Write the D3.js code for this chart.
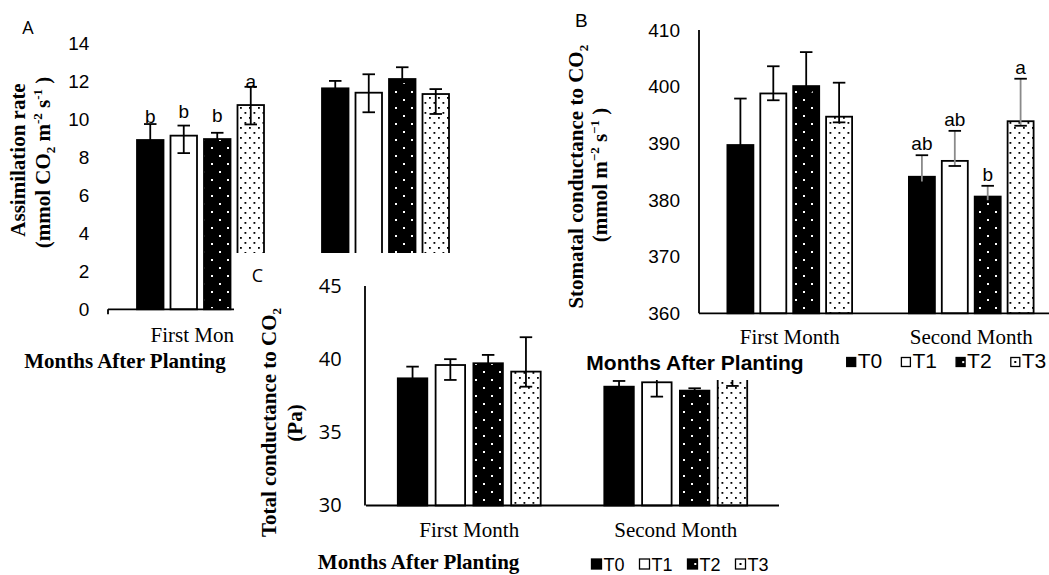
<!DOCTYPE html>
<html>
<head>
<meta charset="utf-8">
<script src="https://cdn.jsdelivr.net/npm/d3@7"></script>
<style>
  html, body { margin: 0; padding: 0; background: #fff; }
  svg { display: block; }
</style>
</head>
<body>
<svg id="fig" width="1049" height="575"></svg>
<script>
// ---------- data ----------
const months = ["First Month", "Second Month"];
const treatments = ["T0", "T1", "T2", "T3"];

// A: assimilation rate (mmol CO2 m-2 s-1)
const assimTicks = [0, 2, 4, 6, 8, 10, 12, 14];
const assimMean = [[8.91, 9.14, 8.96, 10.75], [11.63, 11.40, 12.12, 11.33]];
const assimErrUp = [[0.84, 0.53, 0.33, 0.96], [0.39, 0.97, 0.62, 0.26]];
const assimErrDown = [[0.40, 0.92, 0.20, 1.02], [0.30, 1.03, 0.30, 1.05]];
const assimLetters = [["b", "b", "b", "a"], ["", "", "", ""]];

// B: stomatal conductance to CO2 (mmol m-2 s-1)
const stomTicks = [360, 370, 380, 390, 400, 410];
const stomMean = [[389.7, 398.8, 400.1, 394.7], [384.1, 386.9, 380.6, 393.9]];
const stomErrUp = [[8.2, 4.8, 6.0, 6.0], [3.8, 5.3, 1.9, 7.5]];
const stomErrDown = [[1.0, 1.2, 1.0, 1.0], [1.0, 0.9, 0.8, 0.8]];
const stomLetters = [["", "", "", ""], ["ab", "ab", "b", "a"]];

// C: total conductance to CO2 (Pa)
const totalTicks = [30, 35, 40, 45];
const totalMean = [[38.69, 39.60, 39.72, 39.15], [38.12, 38.42, 37.85, 38.90]];
const totalErrUp = [[0.80, 0.40, 0.57, 2.35], [0.39, 0.98, 0.16, 0.80]];
const totalErrDown = [[0.30, 1.02, 0.30, 1.03], [0.20, 0.98, 0.16, 0.73]];

// ---------- drawing ----------
const SANS = "'Liberation Sans', Arial, sans-serif";
const SERIF = "'Liberation Serif', 'Times New Roman', serif";
const CALI = "'Open Sans', sans-serif";

const svg = d3.select("#fig");
svg.append("rect").attr("width", 1049).attr("height", 575).attr("fill", "#fff");

// fill patterns
const defs = svg.append("defs");
const pDark = defs.append("pattern").attr("id", "dotsDark")
  .attr("patternUnits", "userSpaceOnUse").attr("width", 16).attr("height", 16);
pDark.append("rect").attr("width", 16).attr("height", 16).attr("fill", "#000");
pDark.append("rect").attr("x", 3).attr("y", 3).attr("width", 2).attr("height", 2).attr("fill", "#fff");
pDark.append("rect").attr("x", 11).attr("y", 11).attr("width", 2).attr("height", 2).attr("fill", "#fff");

const pLight = defs.append("pattern").attr("id", "dotsLight")
  .attr("patternUnits", "userSpaceOnUse").attr("width", 9).attr("height", 10);
pLight.append("rect").attr("width", 9).attr("height", 10).attr("fill", "#fff");
pLight.append("rect").attr("x", 1.5).attr("y", 2).attr("width", 1.8).attr("height", 1.8).attr("fill", "#000");
pLight.append("rect").attr("x", 6).attr("y", 7).attr("width", 1.8).attr("height", 1.8).attr("fill", "#000");

const fills = { T0: "#000", T1: "#fff", T2: "url(#dotsDark)", T3: "url(#dotsLight)" };

function rotatedTitle(g, bx, cy, parts, fs) {
  const t = g.append("text")
    .attr("transform", `translate(${bx},${cy}) rotate(-90)`)
    .attr("text-anchor", "middle")
    .attr("font-family", SERIF).attr("font-weight", "bold")
    .attr("font-size", fs).attr("fill", "#000");
  let shift = 0;
  parts.forEach(([txt, kind]) => {
    const target = kind === "sub" ? 5 : kind === "sup" ? -8 : 0;
    const ts = t.append("tspan").text(txt).attr("dy", target - shift);
    if (kind !== "n") ts.attr("font-size", 13);
    shift = target;
  });
}

function legend(g, x0, gap, baseline, sw, fs) {
  treatments.forEach((t, j) => {
    const x = x0 + j * gap;
    const top = baseline - sw - 1.5;
    g.append("rect").attr("x", x).attr("y", top).attr("width", sw).attr("height", sw)
      .attr("fill", t === "T0" || t === "T2" ? "#000" : "#fff")
      .attr("stroke", "#000").attr("stroke-width", 1.3);
    if (t === "T2") g.append("rect").attr("x", x + sw * 0.68).attr("y", top + sw * 0.4)
      .attr("width", 2).attr("height", 2).attr("fill", "#fff");
    if (t === "T3") g.append("rect").attr("x", x + sw / 2 - 1).attr("y", top + sw / 2 - 1)
      .attr("width", 2).attr("height", 2).attr("fill", "#000");
    g.append("text").attr("x", x + sw + 2).attr("y", baseline)
      .attr("font-family", SANS).attr("font-size", fs).attr("fill", "#000").text(t);
  });
}

function panel(g, o) {
  const x = d3.scaleBand().domain(months).range(o.xRange);
  const pad = (o.step - o.barW) / o.step;
  const inner = d3.scaleBand().domain(treatments)
    .range([-2 * o.step, 2 * o.step]).paddingInner(pad).paddingOuter(pad / 2);
  const y = d3.scaleLinear().domain(o.yDomain).range(o.yRange);
  const y0 = y(o.yDomain[0]);

  const rows = [];
  months.forEach((m, i) => treatments.forEach((t, j) => rows.push({
    m, t, i,
    v: o.mean[i][j], up: o.up[i][j], dn: o.dn[i][j],
    letter: o.letters ? o.letters[i][j] : ""
  })));
  const cx = d => x(d.m) + x.bandwidth() / 2 + inner(d.t) + inner.bandwidth() / 2;

  // value axis labels
  const ya = g.append("g").attr("transform", `translate(${o.axisX},0)`)
    .call(d3.axisLeft(y).tickValues(o.ticks).tickSize(0).tickPadding(o.tickPad).tickFormat(d3.format("d")));
  ya.select(".domain").remove();
  ya.attr("font-family", o.tickFont).attr("font-size", o.tickSize);
  ya.selectAll("text").attr("fill", "#000");

  // category labels
  const xa = g.append("g").attr("transform", `translate(0,${y0})`)
    .call(d3.axisBottom(x).tickSize(0).tickPadding(o.catPad));
  xa.select(".domain").remove();
  xa.attr("font-family", SERIF).attr("font-size", 21);
  xa.selectAll("text").attr("fill", "#000");

  // bars
  g.selectAll("rect.bar").data(rows).join("rect").attr("class", "bar")
    .attr("x", d => x(d.m) + x.bandwidth() / 2 + inner(d.t))
    .attr("width", inner.bandwidth())
    .attr("y", d => y(d.v))
    .attr("height", d => y0 - y(d.v))
    .attr("fill", d => fills[d.t])
    .attr("stroke", "#000").attr("stroke-width", 1.8);

  // error bars
  const eb = g.selectAll("g.err").data(rows).join("g").attr("class", "err");
  eb.append("line")
    .attr("x1", cx).attr("x2", cx)
    .attr("y1", d => y(d.v + d.up)).attr("y2", d => y(d.v - d.dn))
    .attr("stroke", d => o.errColor ? o.errColor[d.i] : "#000").attr("stroke-width", 1.8);
  [d => d.v + d.up, d => d.v - d.dn].forEach(f => {
    eb.append("line")
      .attr("x1", d => cx(d) - 6.25).attr("x2", d => cx(d) + 6.25)
      .attr("y1", d => y(f(d))).attr("y2", d => y(f(d)))
      .attr("stroke", "#000").attr("stroke-width", 1.8);
  });

  // significance letters
  g.selectAll("text.sig").data(rows.filter(d => d.letter)).join("text").attr("class", "sig")
    .attr("x", cx)
    .attr("y", d => o.letterAbove === "cap" ? y(d.v + d.up) - 5 : y(d.v) - 17.5)
    .attr("text-anchor", "middle")
    .attr("font-family", SANS).attr("font-size", 19).attr("fill", "#000")
    .text(d => d.letter);

  // axis lines
  const [xl, xr] = x.range();
  g.append("line").attr("x1", xl).attr("x2", xr).attr("y1", y0).attr("y2", y0)
    .attr("stroke", "#000").attr("stroke-width", 1.8);
  if (o.valueLine) {
    g.append("line").attr("x1", o.axisX).attr("x2", o.axisX)
      .attr("y1", y0).attr("y2", y(o.yDomain[1]))
      .attr("stroke", "#000").attr("stroke-width", 1.8);
  }
  if (o.catTicks) {
    [xl, x(months[1]), xr].forEach(v => g.append("line")
      .attr("x1", v).attr("x2", v).attr("y1", y0).attr("y2", y0 + 5)
      .attr("stroke", "#000").attr("stroke-width", 1.8));
  }
}

// ---------- panel A ----------
const gA = svg.append("g");
panel(gA, {
  xRange: [108, 478], step: 33.5, barW: 26.5,
  yDomain: [0, 14], yRange: [309.3, 43.3], ticks: assimTicks,
  axisX: 108, tickPad: 18.7, tickFont: SANS, tickSize: 19, catPad: 17.3,
  mean: assimMean, up: assimErrUp, dn: assimErrDown, letters: assimLetters,
  letterAbove: "bar", valueLine: false, catTicks: true
});
gA.append("text").attr("x", 28).attr("y", 33.5).attr("text-anchor", "middle")
  .attr("font-family", CALI).attr("font-size", 18).attr("fill", "#000").text("A");
rotatedTitle(gA, 25, 160, [["Assimilation rate", "n"]], 21);
rotatedTitle(gA, 50, 162.5, [["(mmol CO", "n"], ["2", "sub"], [" m", "n"], ["-2", "sup"], [" s", "n"], ["-1", "sup"], [" )", "n"]], 21);
gA.append("text").attr("x", 125).attr("y", 368).attr("text-anchor", "middle")
  .attr("font-family", SERIF).attr("font-weight", "bold").attr("font-size", 21)
  .attr("fill", "#000").text("Months After Planting");

// ---------- panel C ----------
const gC = svg.append("g");
gC.append("rect").attr("x", 234).attr("y", 253).attr("width", 815).attr("height", 322).attr("fill", "#fff");
panel(gC, {
  xRange: [366, 779], step: 37.8, barW: 29.5,
  yDomain: [30, 45], yRange: [505.5, 286], ticks: totalTicks,
  axisX: 365, tickPad: 23.3, tickFont: CALI, tickSize: 20, catPad: 16.3,
  mean: totalMean, up: totalErrUp, dn: totalErrDown,
  valueLine: true, catTicks: false
});
gC.append("text").attr("x", 257.5).attr("y", 281.7).attr("text-anchor", "middle")
  .attr("font-family", CALI).attr("font-size", 18).attr("fill", "#000").text("C");
rotatedTitle(gC, 276, 422.5, [["Total conductance to CO", "n"], ["2", "sub"]], 21);
rotatedTitle(gC, 302, 423, [["(Pa)", "n"]], 21);
gC.append("text").attr("x", 418.6).attr("y", 569).attr("text-anchor", "middle")
  .attr("font-family", SERIF).attr("font-weight", "bold").attr("font-size", 21)
  .attr("fill", "#000").text("Months After Planting");
legend(gC, 591.5, 48, 570.5, 10, 18);

// ---------- panel B ----------
const gB = svg.append("g");
gB.append("rect").attr("x", 548).attr("y", 0).attr("width", 501).attr("height", 380).attr("fill", "#fff");
panel(gB, {
  xRange: [699, 1062], step: 32.9, barW: 26,
  yDomain: [360, 410], yRange: [313.3, 30], ticks: stomTicks,
  axisX: 699, tickPad: 19, tickFont: SANS, tickSize: 19, catPad: 15.8,
  mean: stomMean, up: stomErrUp, dn: stomErrDown, letters: stomLetters,
  letterAbove: "cap", errColor: ["#000", "#8a8a8a"],
  valueLine: true, catTicks: false
});
gB.append("text").attr("x", 581.3).attr("y", 26.7).attr("text-anchor", "middle")
  .attr("font-family", SANS).attr("font-size", 19).attr("fill", "#000").text("B");
rotatedTitle(gB, 583, 176.7, [["Stomatal conductance to CO", "n"], ["2", "sub"]], 21);
rotatedTitle(gB, 606.7, 175, [["(mmol m", "n"], ["\u22122", "sup"], [" s", "n"], ["\u22121", "sup"], [" )", "n"]], 21);
gB.append("text").attr("x", 695).attr("y", 370).attr("text-anchor", "middle")
  .attr("font-family", SANS).attr("font-weight", "bold").attr("font-size", 21)
  .attr("fill", "#000").text("Months After Planting");
legend(gB, 846.7, 54.7, 368, 9, 21);
</script>
</body>
</html>
